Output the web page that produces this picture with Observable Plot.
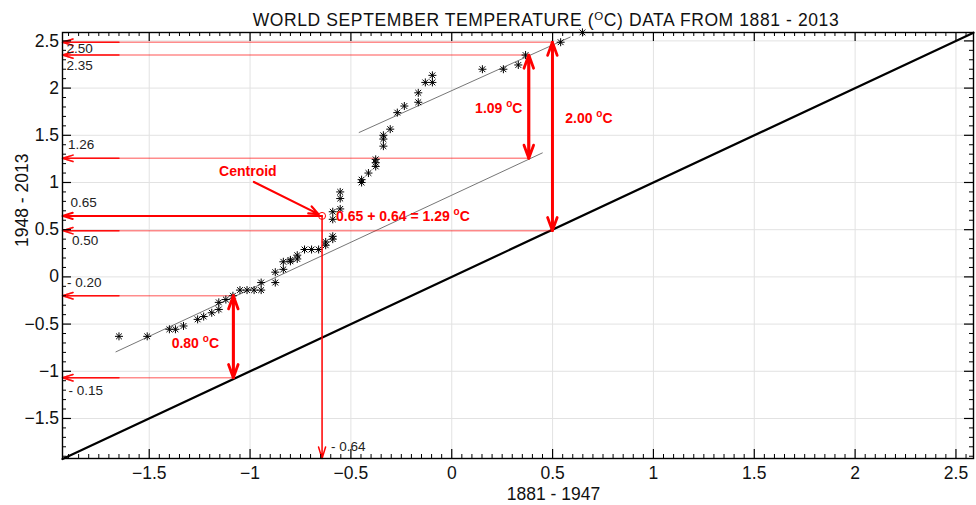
<!DOCTYPE html>
<html><head><meta charset="utf-8">
<script src="https://cdn.jsdelivr.net/npm/d3@7"></script>
<script src="https://cdn.jsdelivr.net/npm/@observablehq/plot@0.6"></script>
<style>
body{margin:0;background:#fff;font-family:"Liberation Sans",Arial,sans-serif;}
#wrap{position:relative;width:976px;height:505px;overflow:hidden;}
#title{position:absolute;left:196px;width:700px;top:9px;text-align:center;font-size:17.5px;letter-spacing:0.6px;color:#111;white-space:nowrap;line-height:22px;}
#title sup{font-size:11.5px;line-height:0;vertical-align:6px;}
</style></head><body>
<div id="wrap"><div id="chart"></div><div id="title">WORLD SEPTEMBER TEMPERATURE (<sup>O</sup>C) DATA FROM 1881 - 2013</div></div>
<script>
// ---- data: sorted September anomalies (Q-Q pairs) ----
const x1881 = [-1.65,-1.51,-1.40,-1.37,-1.33,-1.26,-1.23,-1.19,-1.155,-1.155,-1.12,-1.085,-1.05,-1.015,-0.98,-0.945,-0.945,-0.875,-0.875,-0.835,-0.835,-0.80,-0.80,-0.766,-0.766,-0.73,-0.695,-0.66,-0.625,-0.625,-0.59,-0.59,-0.59,-0.59,-0.553,-0.553,-0.553,-0.447,-0.447,-0.413,-0.377,-0.377,-0.377,-0.339,-0.339,-0.339,-0.305,-0.27,-0.235,-0.166,-0.166,-0.131,-0.096,-0.096,0.152,0.256,0.33,0.366,0.54,0.648];
const y1948 = [-0.63,-0.63,-0.555,-0.555,-0.52,-0.45,-0.42,-0.38,-0.345,-0.27,-0.24,-0.20,-0.14,-0.14,-0.14,-0.14,-0.06,-0.06,0.05,0.08,0.16,0.165,0.18,0.19,0.23,0.29,0.29,0.29,0.335,0.37,0.40,0.43,0.61,0.69,0.72,0.83,0.90,1.00,1.03,1.10,1.17,1.21,1.245,1.385,1.46,1.50,1.565,1.74,1.81,1.85,1.95,2.06,2.06,2.135,2.20,2.20,2.245,2.35,2.486,2.59];
// fitted lines (endpoints)
const fitLowX = [-1.665, 0.449], fitLowY = [-0.794, 1.313];
const fitHighX = [-0.459, 0.587], fitHighY = [1.530, 2.54];
// line of equality
const equality = [-1.93, 2.587];
// axis ranges and ticks
const xDomain = [-1.93, 2.587], yDomain = [-1.924, 2.589];
const majorX = [-1.5,-1,-0.5,0,0.5,1,1.5,2,2.5];
const majorY = [-1.5,-1,-0.5,0,0.5,1,1.5,2,2.5];
const minorX = d3.range(-38, 52).map(i => +(i*0.05).toFixed(2)).filter(v => !majorX.includes(v));
const minorY = d3.range(-19, 26).map(i => +(i*0.1).toFixed(1)).filter(v => !majorY.includes(v));
// annotation values
const guideFromX = [0.5, 0.366, 0.384, 0.5, -1.085, -1.078];
const guideY     = [2.486, 2.35, 1.256, 0.49, -0.20, -1.068];
const guideText  = ["2.50", "2.35", "1.26", "0.50", "- 0.20", "- 0.15"];
const centroid = {x: -0.643, y: 0.646};
const centroidText = ["0.65", "- 0.64", "0.65 + 0.64 = 1.29 °C", "Centroid"];
const pointerFrom = {x: -0.981, y: 1.006};
const spanX  = [-1.083, 0.382, 0.499];
const spanLo = [-1.068, 1.256, 0.49];
const spanHi = [-0.20, 2.35, 2.486];
const spanText = ["0.80 °C", "1.09 °C", "2.00 °C"];

// layout (pixel offsets only)
const W = 976, H = 505, mL = 62, mR = 3, mT = 32, mB = 47;
const PH = H - mT - mB, PW = W - mL - mR;
const guideDx = [4, 4, 5.5, 9.5, 4.5, 6];
const guideDy = [6, 11, -14, 10.5, -13.3, 12.5];
const spanDx = [-38, -30, 36.5];
const spanDy = [6.5, 2, -18];

const pts = x1881.map((x, i) => ({x, y: y1948[i]}));
const fitLow = fitLowX.map((x, i) => ({x, y: fitLowY[i]}));
const fitHigh = fitHighX.map((x, i) => ({x, y: fitHighY[i]}));
const eq = equality.map(v => ({x: v, y: v}));
const guides = guideY.map((y, i) => ({from: guideFromX[i], y, text: guideText[i]}));
const spans = spanX.map((x, i) => ({x, lo: spanLo[i], hi: spanHi[i], mid: (spanLo[i] + spanHi[i]) / 2, text: spanText[i]}));
const X0 = xDomain[0], Y0 = yDomain[0];

const star = {draw(ctx, size) {
  const r = Math.sqrt(size / Math.PI), d = r * 0.72;
  ctx.moveTo(0, -r); ctx.lineTo(0, r);
  ctx.moveTo(-r, 0); ctx.lineTo(r, 0);
  ctx.moveTo(-d, -d); ctx.lineTo(d, d);
  ctx.moveTo(-d, d); ctx.lineTo(d, -d);
}};
const fmt = d => (d < 0 ? "\u2212" : "") + Math.abs(d);

const marks = [
  Plot.ruleX(majorX, {stroke: "#e2e2e2", strokeWidth: 1}),
  Plot.ruleY(majorY, {stroke: "#e2e2e2", strokeWidth: 1}),
  Plot.line(eq, {x: "x", y: "y", stroke: "black", strokeWidth: 2.2}),
  Plot.line(fitLow, {x: "x", y: "y", stroke: "#666", strokeWidth: 0.9}),
  Plot.line(fitHigh, {x: "x", y: "y", stroke: "#666", strokeWidth: 0.9}),
  // faded horizontal guides
  Plot.arrow(guides, {x1: "from", y1: "y", x2: X0, y2: "y", stroke: "#ff0000", strokeOpacity: 0.45, strokeWidth: 1.5, headLength: 11, headAngle: 34}),
  Plot.arrow(guides, {x1: X0 + 0.28, y1: "y", x2: X0, y2: "y", stroke: "#ff0000", strokeOpacity: 0.9, strokeWidth: 1.5, headLength: 11, headAngle: 34}),
  Plot.dot(pts, {x: "x", y: "y", symbol: star, r: 4, stroke: "black", fill: "none", strokeWidth: 1}),
  // centroid
  Plot.arrow([centroid], {x1: "x", y1: "y", x2: X0, y2: "y", stroke: "#ff0000", strokeWidth: 2, headLength: 8, headAngle: 34}),
  Plot.arrow([centroid], {x1: "x", y1: "y", x2: "x", y2: Y0, stroke: "#ff0000", strokeWidth: 1.5, headLength: 12, headAngle: 34}),
  Plot.arrow([pointerFrom], {x1: "x", y1: "y", x2: centroid.x, y2: centroid.y, insetEnd: 4, stroke: "#ff0000", strokeWidth: 2.2, headLength: 7, headAngle: 44}),
  Plot.dot([centroid], {x: "x", y: "y", r: 3.5, stroke: "#ff0000", fill: "none", strokeWidth: 1}),
  // double arrows
  Plot.arrow(spans, {x1: "x", y1: "lo", x2: "x", y2: "hi", stroke: "#ff0000", strokeWidth: 2.8, headLength: 7.5, headAngle: 40}),
  Plot.arrow(spans, {x1: "x", y1: "hi", x2: "x", y2: "lo", stroke: "#ff0000", strokeWidth: 2.8, headLength: 7.5, headAngle: 40}),
  // texts
  ...guides.map((g, i) => Plot.text([g], {frameAnchor: "left", y: "y", text: "text", textAnchor: "start", dx: guideDx[i], dy: guideDy[i], fontSize: 13.5, fill: "#222"})),
  Plot.text([centroid], {frameAnchor: "left", y: "y", text: () => centroidText[0], textAnchor: "start", dx: 8, dy: -13.5, fontSize: 13.5, fill: "#222"}),
  Plot.text([centroid], {x: "x", y: Y0, text: () => centroidText[1], textAnchor: "start", dx: 9, dy: -12, fontSize: 13.5, fill: "#222"}),
  Plot.text([centroid], {x: "x", y: "y", text: () => centroidText[2], textAnchor: "start", dx: 14, dy: 1, fontSize: 14, fontWeight: "bold", fill: "#ff0000"}),
  Plot.text([pointerFrom], {x: "x", y: "y", text: () => centroidText[3], textAnchor: "middle", dx: -6, dy: -10, fontSize: 14, fontWeight: "bold", fill: "#ff0000"}),
  ...spans.map((s, i) => Plot.text([s], {x: "x", y: "mid", text: "text", dx: spanDx[i], dy: spanDy[i], fontSize: 14, fontWeight: "bold", fill: "#ff0000"})),
  // axis labels
  Plot.text(["1881 - 1947"], {frameAnchor: "bottom", text: d => d, dx: 35.5, dy: 41, fontSize: 17.5, fill: "#111"}),
  Plot.text(["1948 - 2013"], {frameAnchor: "left", text: d => d, rotate: -90, dx: -40, dy: 1.5, fontSize: 17.5, fill: "#111"}),
  // inward ticks on four sides
  Plot.ruleX(majorX, {insetTop: PH - 9, stroke: "black", strokeWidth: 1.2}),
  Plot.ruleX(majorX, {insetBottom: PH - 9, stroke: "black", strokeWidth: 1.2}),
  Plot.ruleX(minorX, {insetTop: PH - 4, stroke: "black", strokeWidth: 1}),
  Plot.ruleX(minorX, {insetBottom: PH - 4, stroke: "black", strokeWidth: 1}),
  Plot.ruleY(majorY, {insetRight: PW - 9, stroke: "black", strokeWidth: 1.2}),
  Plot.ruleY(majorY, {insetLeft: PW - 9, stroke: "black", strokeWidth: 1.2}),
  Plot.ruleY(minorY, {insetRight: PW - 4, stroke: "black", strokeWidth: 1}),
  Plot.ruleY(minorY, {insetLeft: PW - 4, stroke: "black", strokeWidth: 1}),
  Plot.frame({stroke: "black", strokeWidth: 1.4})
];

const chart = Plot.plot({
  width: W, height: H,
  marginLeft: mL, marginRight: mR, marginTop: mT, marginBottom: mB,
  style: {fontFamily: '"Liberation Sans", Arial, sans-serif', fontSize: "17.5px", color: "#111", background: "white", overflow: "visible"},
  x: {domain: xDomain, ticks: majorX, tickSize: 0, tickPadding: 8, tickFormat: fmt, label: null},
  y: {domain: yDomain, ticks: majorY, tickSize: 0, tickPadding: 3.5, tickFormat: fmt, label: null},
  marks
});
document.getElementById("chart").appendChild(chart);

// superscript "o" for degree signs
d3.select(chart).selectAll("text").each(function() {
  const t = this.textContent;
  if (this.children.length === 0 && t.includes("°")) {
    const [a, b] = t.split("°");
    const sel = d3.select(this);
    sel.text(a);
    sel.append("tspan").attr("dy", -6).attr("font-size", 10).text("o");
    sel.append("tspan").attr("dy", 6).text(b);
  }
});
</script>
</body></html>
